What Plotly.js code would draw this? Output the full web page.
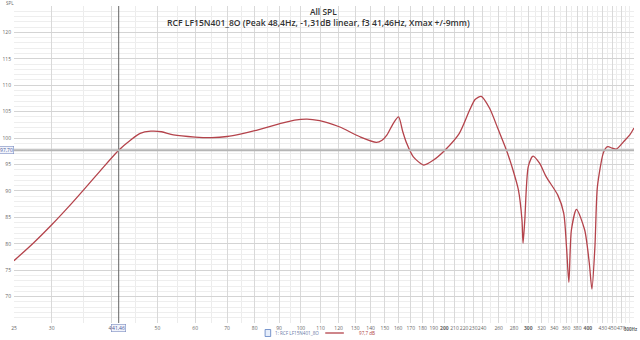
<!DOCTYPE html>
<html><head><meta charset="utf-8">
<script src="https://cdn.plot.ly/plotly-3.0.1.min.js"></script>
<style>html,body{margin:0;padding:0;background:#fff}#c{width:640px;height:340px}</style>
</head><body><div id="c"></div>
<script>
// Frequency (Hz) and SPL (dB)
const freqHz = [25,27.5,30,33,35,38,41.46,44,46,48.4,51,54,60,65,70,75,80,90,97,103,109.5,114,120.7,133,144,148,151.6,156.3,160.3,163.6,166.7,172,181,189.5,200.5,215,226,232,239,249,259,270,278.5,286,291,292.5,295,300,307,317,327,346,356,360.8,365,369.5,378.7,394,402.8,408,414,419,430.8,437,441,450,459,478.6,490,500];
const splDb  = [76.8,80.2,83.6,87.6,90.2,93.9,97.7,99.7,100.9,101.3,101.2,100.6,100.2,100.1,100.3,100.8,101.4,102.7,103.4,103.6,103.3,102.9,102.1,100.25,99.2,99.6,100.6,102.8,104.0,101.2,99.0,96.5,94.9,95.8,97.7,100.9,105.3,107.3,107.9,105.6,101.8,97.7,94.0,90.2,84.5,80.1,84.5,94.6,96.6,95.2,92.7,89.2,85.8,79.5,72.7,82.6,86.5,82.6,76.4,71.4,79.5,90.8,97.1,98.2,98.4,98.1,97.9,99.6,100.6,101.9];
const xTickVals = [25,30,40,50,60,70,80,90,100,110,120,130,140,150,160,170,180,190,200,210,220,230,240,260,280,300,320,340,360,380,400,430,450,470];
const xTickText = ['25','30','40','50','60','70','80','90','100','110','120','130','140','150','160','170','180','190','<b>200</b>','210','220','230','240','260','280','<b>300</b>','320','340','360','380','<b>400</b>','430','450','470'];
const xEndLabel = '500Hz';
const xMinorVals = [35,45,55,65,75,85,95,250,270,290,310,330,350,370,390,410,420,440,460,480,490,500];
const yTickVals = [70,75,80,85,90,95,100,105,110,115,120];
const cursorFreq = 41.46, cursorSpl = 97.70;
const chartTitle = 'All SPL';
const chartSubtitle = 'RCF LF15N401_8O (Peak 48,4Hz, -1,31dB linear, f3 41,46Hz, Xmax +/-9mm)';
const seriesName = '1: RCF LF15N401_8O', legendValue = '97,7 dB';

const red = '#b4434b';
const data = [{
  x: freqHz, y: splDb, type: 'scatter', mode: 'lines',
  line: {color: red, width: 1.3, shape: 'spline', smoothing: 0.7},
  showlegend: false, hoverinfo: 'skip'
}];
const fnt = '"Open Sans", "Noto Sans", sans-serif';
const H = 317; // plot height px
const py = (px) => 1 - (px - 6) / H; // pixel row -> paper y
const pxx = (px) => (px - 14) / 620;  // pixel col -> paper x
const legY = py(333);
const layout = {
  width: 640, height: 340,
  margin: {l: 14, r: 6, t: 6, b: 17},
  paper_bgcolor: '#fff', plot_bgcolor: '#fff',
  font: {family: fnt, color: '#555'},
  xaxis: {type: 'log', range: [Math.log10(25), Math.log10(500)], tickmode: 'array',
          tickvals: xTickVals, ticktext: xTickText, tickfont: {size: 5, color: '#666'}, tickangle: 0,
          showgrid: true, gridcolor: '#d9d9d9', gridwidth: 1, zeroline: false, showline: false,
          ticks: '', ticklabelstandoff: 1, ticklabeloverflow: 'allow',
          minor: {tickmode: 'array', tickvals: xMinorVals, showgrid: true, gridcolor: '#ececec', gridwidth: 1}},
  yaxis: {range: [65, 125], tickmode: 'array', tickvals: yTickVals,
          tickfont: {size: 5, color: '#666'}, showgrid: true, gridcolor: '#d4d4d4', gridwidth: 1,
          zeroline: false, showline: false, ticks: '', ticklabelstandoff: 2,
          minor: {dtick: 1, showgrid: true, gridcolor: '#eeeeee', gridwidth: 1}},
  shapes: [
    {type: 'line', xref: 'x', yref: 'paper', x0: cursorFreq, x1: cursorFreq, y0: 0, y1: 1,
     line: {color: '#666', width: 1}},
    {type: 'line', xref: 'paper', yref: 'y', x0: 0, x1: 1, y0: cursorSpl, y1: cursorSpl,
     line: {color: '#b5b5b5', width: 2}},
    {type: 'line', xref: 'paper', yref: 'paper', x0: 0.502, x1: 0.532, y0: legY, y1: legY,
     line: {color: red, width: 1.3}},
    {type: 'rect', xref: 'paper', yref: 'paper', x0: 0.405, x1: 0.414, y0: legY - 0.011, y1: legY + 0.011,
     line: {color: '#5b7ec0', width: 0.8}, fillcolor: '#e6eefb'}
  ],
  annotations: [
    {text: chartTitle, xref: 'paper', yref: 'paper', x: pxx(323.5), y: py(11), xanchor: 'center', yanchor: 'middle',
     showarrow: false, font: {size: 8.4, color: '#333', weight: 600}},
    {text: chartSubtitle, xref: 'paper', yref: 'paper', x: pxx(318.5), y: py(22.5), xanchor: 'center', yanchor: 'middle',
     showarrow: false, font: {size: 8.6, color: '#333', weight: 600}},
    {text: 'SPL', xref: 'paper', yref: 'paper', x: -0.016, y: py(3), xanchor: 'left', yanchor: 'middle',
     showarrow: false, font: {size: 4.5, color: '#666'}},
    {text: '<b>' + xEndLabel + '</b>', xref: 'paper', yref: 'paper', x: pxx(639.5), y: -0.004, xanchor: 'right', yanchor: 'top',
     showarrow: false, font: {size: 4.4, color: '#666'}},
    {text: '97,70', xref: 'paper', yref: 'y', x: 0, y: cursorSpl, xanchor: 'right', yanchor: 'middle',
     showarrow: false, font: {size: 5, color: '#4a5a9a'}, bordercolor: '#7a8ac0', borderwidth: 0.6,
     borderpad: 0.5, bgcolor: '#f2f4fc'},
    {text: '41,46', xref: 'x', yref: 'paper', x: Math.log10(cursorFreq), y: -0.004, xanchor: 'center', yanchor: 'top',
     showarrow: false, font: {size: 5, color: '#4a5a9a'}, bordercolor: '#7a8ac0', borderwidth: 0.6,
     borderpad: 0.5, bgcolor: '#f2f4fc'},
    {text: seriesName, xref: 'paper', yref: 'paper', x: 0.418, y: legY, xanchor: 'left', yanchor: 'middle',
     showarrow: false, font: {size: 4.6, color: '#6a7aa8'}},
    {text: legendValue, xref: 'paper', yref: 'paper', x: 0.553, y: legY, xanchor: 'left', yanchor: 'middle',
     showarrow: false, font: {size: 4.6, color: '#b04040'}}
  ]
};
Plotly.newPlot('c', data, layout, {staticPlot: true, displayModeBar: false});
</script></body></html>
